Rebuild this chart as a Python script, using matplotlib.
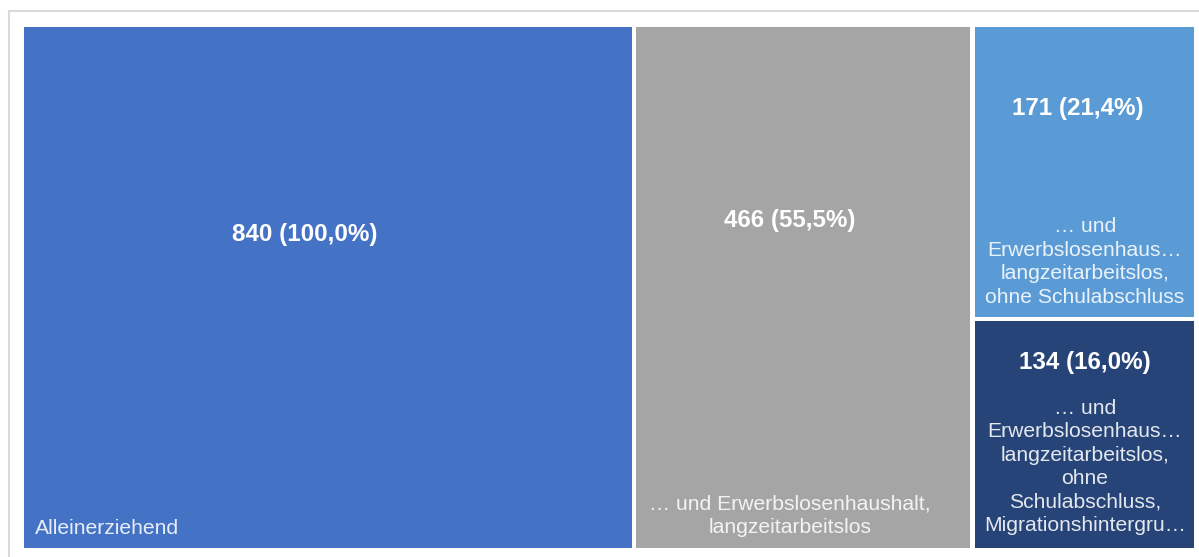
import matplotlib
matplotlib.use("Agg")
import matplotlib.pyplot as plt
from matplotlib.patches import Rectangle

plt.rcParams['font.family'] = ['Liberation Sans', 'DejaVu Sans']

# data
values = [840, 466, 171, 134]
shares = ['100,0%', '55,5%', '21,4%', '16,0%']
names = ['Alleinerziehend',
         '… und Erwerbslosenhaushalt,\nlangzeitarbeitslos',
         '… und\nErwerbslosenhaus…\nlangzeitarbeitslos,\nohne Schulabschluss',
         '… und\nErwerbslosenhaus…\nlangzeitarbeitslos,\nohne\nSchulabschluss,\nMigrationshintergru…']
colors = ['#4472C4', '#A5A5A5', '#5B9BD5', '#264478']

W, H = 1199, 557
fig = plt.figure(figsize=(W / 100, H / 100), dpi=100)

# outer frame (light grey, cut at right and bottom)
fig.patches.append(Rectangle((9 / W, -0.05), 1.2, 1 - 11 / H + 0.05, transform=fig.transFigure,
                             fill=False, edgecolor='#d9d9d9', lw=1.5))

ax = fig.add_axes([24 / W, 9 / H, (1194 - 24) / W, (548 - 27) / H])
ax.set_xlim(0, 1)
ax.set_ylim(0, 1)
ax.axis('off')

gx = 4.5 / 1170
gy = 4.5 / 521

# layout: first two items are full-height columns, last two share the third column
total = sum(values)
rects = []
x = 0.0
for v in values[:2]:
    w = v / total
    rects.append((x, 0.0, w, 1.0))
    x += w
rest = sum(values[2:])
wc = rest / total
y = 1.0
for v in values[2:]:
    h = v / rest
    rects.append((x, y - h, wc, h))
    y -= h

for i, (rx, ry, rw, rh) in enumerate(rects):
    x0 = rx + (gx / 2 if rx > 0 else 0)
    x1 = rx + rw - (gx / 2 if rx + rw < 0.999 else 0)
    y0 = ry + (gy / 2 if ry > 0.001 else 0)
    y1 = ry + rh - (gy / 2 if ry + rh < 0.999 else 0)
    ax.add_patch(Rectangle((x0, y0), x1 - x0, y1 - y0, facecolor=colors[i], edgecolor='none'))

def px(xp):
    return (xp - 24) / 1170

def py(yp):
    return (548 - yp) / 521

vfont = dict(color='white', fontsize=17.4, fontweight='bold', ha='center', va='center')
nfont = dict(color='white', alpha=0.88, fontsize=15.2, ha='center', va='center', linespacing=1.3)

# value labels
label_pos = [(305, 234), (790, 220), (1078, 108), (1085, 362)]
for (xp, yp), v, s in zip(label_pos, values, shares):
    ax.text(px(xp), py(yp), f'{v} ({s})', **vfont)

# category labels
ax.text(px(35), py(528), names[0], color='white', alpha=0.88, fontsize=15.2, ha='left', va='center')
ax.text(px(790), py(516), names[1], **nfont)
ax.text(px(1085), py(262), names[2], **nfont)
ax.text(px(1085), py(467), names[3], **nfont)

fig.savefig('out.png', dpi=100)
